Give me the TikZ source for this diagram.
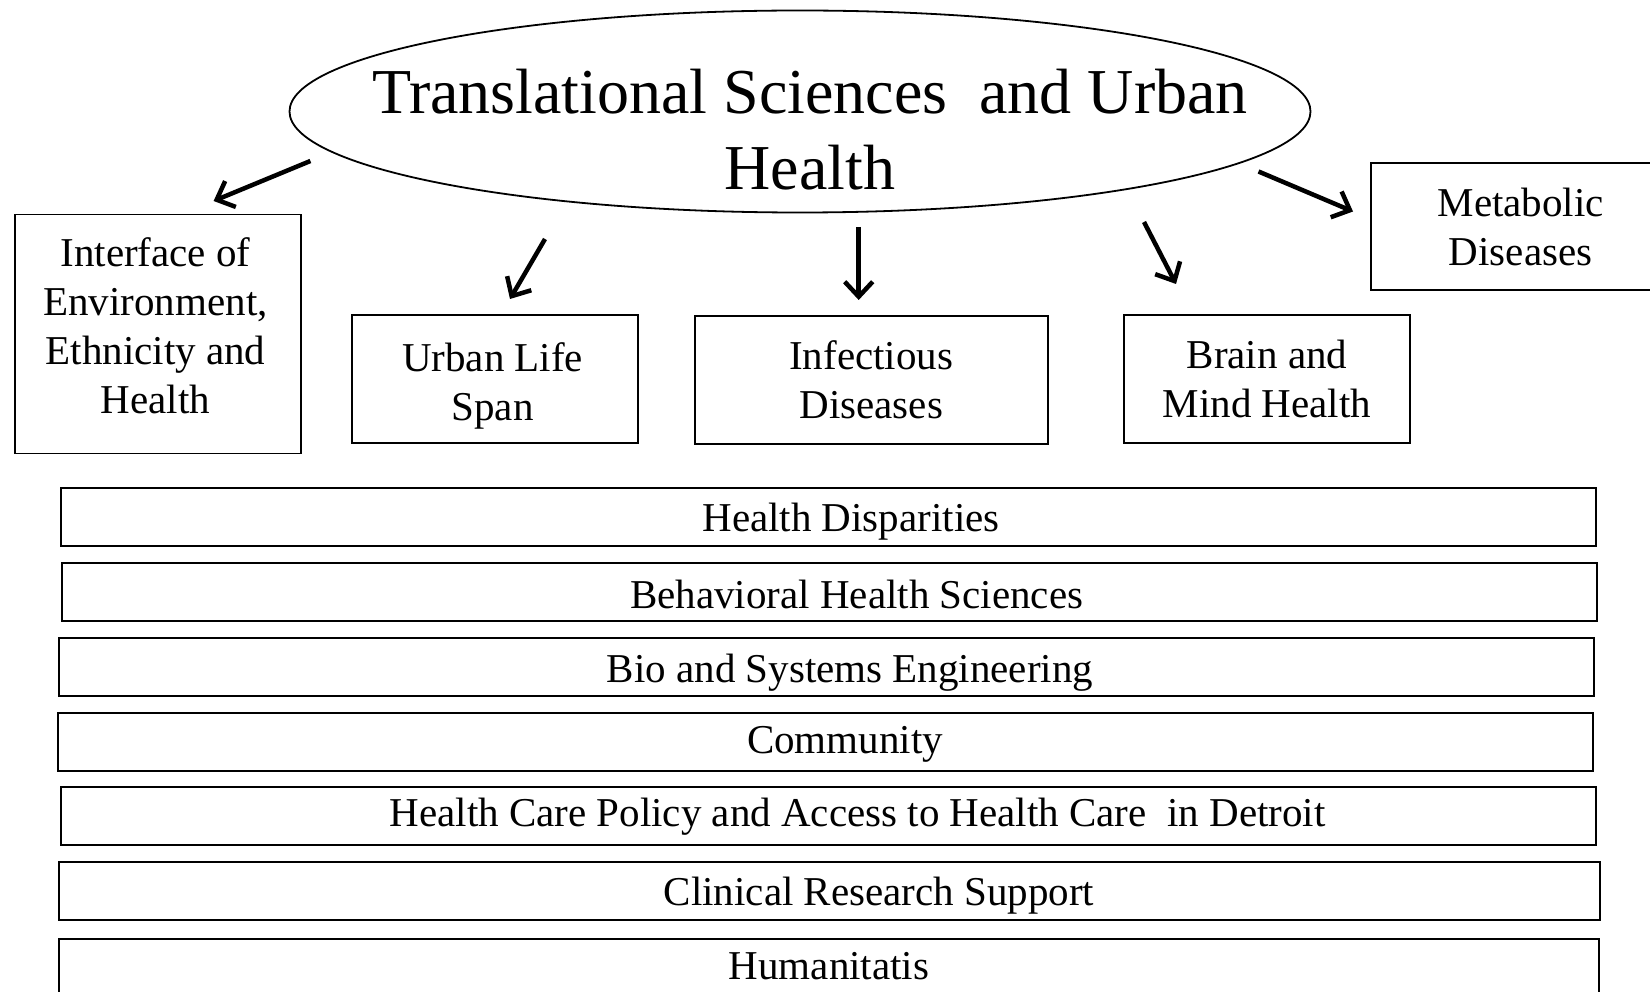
\documentclass[tikz,border=0pt]{standalone}
\usepackage{fontspec}
\setmainfont{Liberation Serif}
\usetikzlibrary{arrows.meta}
\begin{document}
\begin{tikzpicture}[x=1pt,y=-1pt,
  box/.style={draw, line width=1.8pt, inner sep=0pt, align=center,
    font=\fontsize{41}{49}\selectfont},
  bar/.style={draw, line width=1.8pt, inner sep=0pt, minimum height=58pt},
  txt/.style={inner sep=0pt, align=center, font=\fontsize{41}{49}\selectfont},
  arr/.style={line width=4.5pt, -{Straight Barb[length=15pt,width=28pt,line width=4.5pt]}}]
\useasboundingbox (0,0) rectangle (1650,992);
\clip (0,0) rectangle (1650,992);
% title ellipse
\draw[line width=1.8pt] (800,111.5) ellipse [x radius=510.5, y radius=101];
\node[inner sep=0pt, align=center, font=\fontsize{64}{76}\selectfont] (title) at (810,130) {Translational Sciences\ \ and Urban\\Health};
% boxes
\node[box, minimum width=286pt, minimum height=239pt] (iface) at (157.8,334) {};
\node[txt] (ifacet) at (155.5,325.5) {Interface of\\Environment,\\Ethnicity and\\Health};
\node[box, minimum width=286pt, minimum height=128pt] (urban) at (494.6,379) {};
\node[txt] (urbant) at (492.6,386) {Urban Life\\Span};
\node[box, minimum width=353pt, minimum height=128pt] (infect) at (871.3,380) {Infectious\\Diseases};
\node[box, minimum width=286pt, minimum height=128pt] (brain) at (1267,379) {Brain and\\Mind Health};
\node[box, minimum width=300pt, minimum height=127pt] (metab) at (1520.7,226.5) {Metabolic\\Diseases};
% arrow coordinates
\coordinate (a1s) at (310.4,161); \coordinate (a1e) at (213.6,201);
\coordinate (a2s) at (545,239);   \coordinate (a2e) at (510,299);
\coordinate (a3s) at (858.7,227); \coordinate (a3e) at (858.7,300);
\coordinate (a4s) at (1144,222);  \coordinate (a4e) at (1176,284);
\coordinate (a5s) at (1258.5,171.5); \coordinate (a5e) at (1353,211.5);
\draw[arr] (a1s) -- (a1e);
\draw[arr] (a2s) -- (a2e);
\draw[arr] (a3s) -- (a3e);
\draw[arr] (a4s) -- (a4e);
\draw[arr] (a5s) -- (a5e);
% bars
\node[bar, minimum width=1535pt] (b1) at (828.5,517) {};
\node[txt] (t1) at (851,522) {Health Disparities};
\node[bar, minimum width=1535pt] (b2) at (829.5,592) {};
\node[txt] (t2) at (856.6,594) {Behavioral Health Sciences};
\node[bar, minimum width=1535pt] (b3) at (826.5,667) {};
\node[txt] (t3) at (850,673) {Bio and Systems Engineering};
\node[bar, minimum width=1535pt] (b4) at (825.5,742) {};
\node[txt] (t4) at (845,744) {Community};
\node[bar, minimum width=1535pt] (b5) at (828.5,816) {};
\node[txt] (t5) at (857.6,817) {Health Care Policy and Access to Health Care\ \ in Detroit};
\node[bar, minimum width=1541pt] (b6) at (829.5,891) {};
\node[txt] (t6) at (879,896) {Clinical Research Support};
\node[bar, minimum width=1540pt] (b7) at (829,968) {};
\node[txt] (t7) at (829,966) {Humanitatis};
\end{tikzpicture}
\end{document}
